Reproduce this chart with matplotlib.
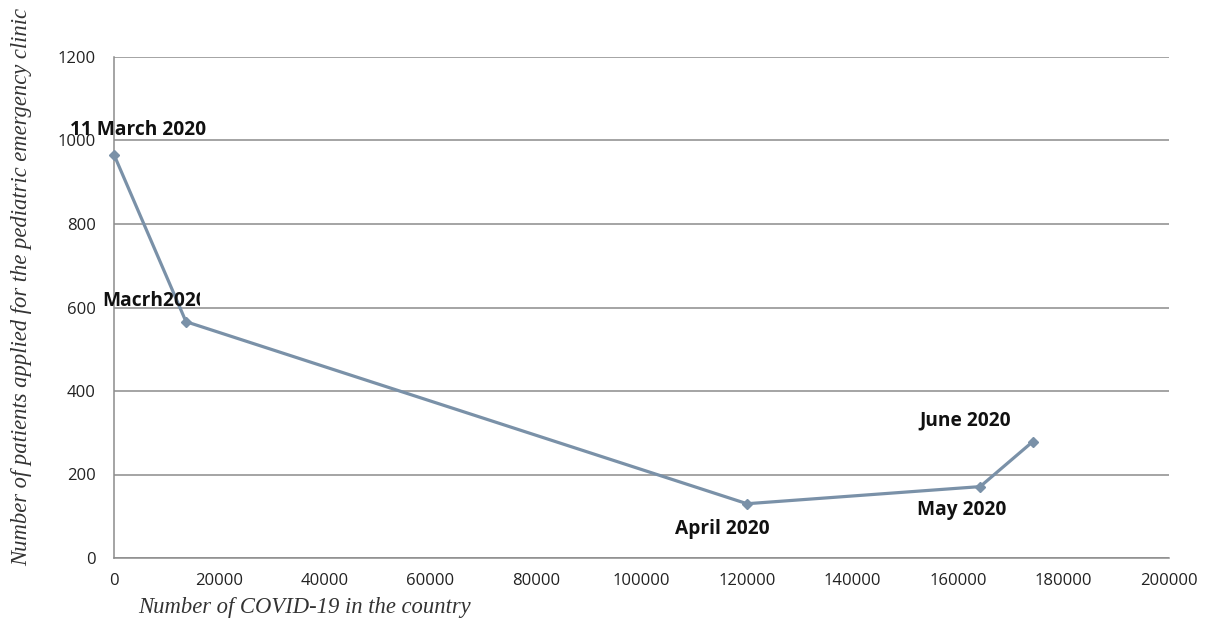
import matplotlib.pyplot as plt
from matplotlib.patches import Rectangle

cases = [0, 13650, 120000, 164200, 174200]
patients = [966, 566, 130, 171, 279]
point_labels = ['11 March 2020', 'Macrh2020', 'April 2020', 'May 2020', 'June 2020']

xticks = [0, 20000, 40000, 60000, 80000, 100000, 120000, 140000, 160000, 180000, 200000]
yticks = [0, 200, 400, 600, 800, 1000, 1200]

LINE = '#7a91a8'
GRID = '#8c8c8c'

fig = plt.figure(figsize=(12.05, 6.23), dpi=100)
ax = fig.add_axes([114 / 1205, 1 - 558 / 623, (1169 - 114) / 1205, (558 - 57) / 623])

ax.plot(cases, patients, color=LINE, lw=2.3, marker='D', ms=5, zorder=3, clip_on=False)

ax.set_xlim(0, 200000)
ax.set_ylim(0, 1200)
ax.set_xticks(xticks)
ax.set_yticks(yticks)
ax.grid(axis='y', color=GRID, lw=1.1)
ax.set_axisbelow(True)
for s in ['top', 'right']:
    ax.spines[s].set_visible(False)
for s in ['left', 'bottom']:
    ax.spines[s].set_color(GRID)
    ax.spines[s].set_linewidth(1.1)
ax.tick_params(length=0, labelsize=12, colors='#222222')
ax.tick_params(axis='x', pad=11)
ax.tick_params(axis='y', pad=13)
for lab in ax.get_xticklabels() + ax.get_yticklabels():
    lab.set_fontfamily('Open Sans')

# point labels (offsets in points)
offsets = [(-32, 18, 'left'), (-60, 15, 'left'), (-18, -18, 'center'),
           (-13, -17, 'center'), (-49, 15, 'center')]
bold = dict(fontsize=13.8, fontweight='bold', fontfamily='Open Sans', color='#111111')
for x, y, t, (dx, dy, ha) in zip(cases, patients, point_labels, offsets):
    txt = ax.annotate(t, (x, y), xytext=(dx, dy), textcoords='offset points',
                      ha=ha, va='center', annotation_clip=False, **bold)
    if t == 'Macrh2020':
        # the source image cuts this label off at its right edge
        clip = Rectangle((-30000, 0), 46300, 1200, transform=ax.transData)
        txt.set_clip_on(True)
        txt.set_clip_path(clip)

serif = dict(fontfamily='Liberation Serif', style='italic', fontsize=16.3, color='#333333')
fig.text(138 / 1205, 1 - 607 / 623, 'Number of COVID-19 in the country', ha='left', va='center', **serif)
fig.text(22 / 1205, 1 - 287 / 623, 'Number of patients applied for the pediatric emergency clinic',
         rotation=90, ha='center', va='center', **serif)

fig.savefig('out.png', dpi=100)
